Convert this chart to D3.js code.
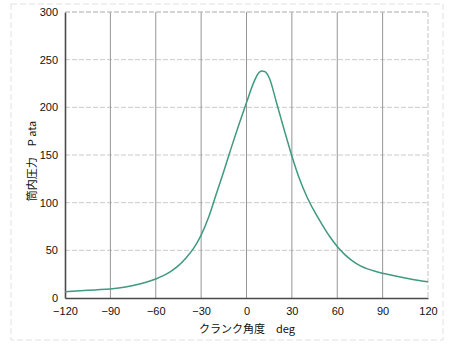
<!DOCTYPE html>
<html><head><meta charset="utf-8">
<script src="https://cdn.jsdelivr.net/npm/d3@7"></script>
<style>body{margin:0;background:#fff}svg{display:block}</style>
</head><body>
<script>
const angles = [-120,-110,-100,-90,-80,-70,-60,-55,-50,-45,-40,-35,-30,-25,-20,-15,-10,-5,0,5,8,10,12,15,20,25,30,35,40,45,50,55,60,65,70,75,80,85,90,100,110,120];
const pressure = [6.5,7.5,8.5,9.5,11.5,15,20,23.5,28,34,42,52,66,85,109,133,158,182,205,227,236,238,237.5,231,204,176,149,125,106,90.5,77,64.5,54,45.5,39,34,30.5,28,26,22.5,19.5,17];
const xTicks = [-120,-90,-60,-30,0,30,60,90,120];
const yTicks = [0,50,100,150,200,250,300];
const xTitle = "クランク角度　deg";
const yTitle = "筒内圧力　P  ata";

const W=450,H=348, L=65, R=428, T=12, B=298;
const svg=d3.select("body").append("svg").attr("width",W).attr("height",H);
const x=d3.scaleLinear().domain([-120,120]).range([L,R]);
const y=d3.scaleLinear().domain([0,300]).range([B,T]);

// faint outer frame (scan)
svg.append("rect").attr("x",11).attr("y",4).attr("width",432).attr("height",336)
  .attr("fill","none").attr("stroke","#e0e0e0").attr("stroke-dasharray","6,3");

// horizontal grid (dashed, light)
svg.append("g").selectAll("line").data(yTicks.filter(d=>d>0)).join("line")
  .attr("x1",L).attr("x2",R).attr("y1",d=>y(d)).attr("y2",d=>y(d))
  .attr("stroke","#cacaca").attr("stroke-dasharray","5,2");
// vertical grid
svg.append("g").selectAll("line").data(xTicks.filter(d=>d>-120&&d<120)).join("line")
  .attr("x1",d=>x(d)).attr("x2",d=>x(d)).attr("y1",T).attr("y2",B)
  .attr("stroke","#8a8a8a").attr("stroke-width",0.9);
// right border (dashed)
svg.append("line").attr("x1",R).attr("x2",R).attr("y1",T).attr("y2",B)
  .attr("stroke","#c4c4c4").attr("stroke-dasharray","5,2");

// axes
const xa=svg.append("g").attr("transform",`translate(0,${B})`)
  .call(d3.axisBottom(x).tickValues(xTicks).tickSize(0).tickPadding(9).tickFormat(d=>d<0?"−"+Math.abs(d):d));
const ya=svg.append("g").attr("transform",`translate(${L},0)`)
  .call(d3.axisLeft(y).tickValues(yTicks).tickSize(0).tickPadding(7));
[xa,ya].forEach(a=>{a.select(".domain").attr("stroke","#4a4a4a").attr("stroke-width",1.6);
  a.selectAll("text").attr("font-family","Liberation Sans, Arial, sans-serif").attr("font-size",11).attr("fill","#111");});
// top border dashed
svg.append("line").attr("x1",L).attr("x2",R).attr("y1",T).attr("y2",T)
  .attr("stroke","#c4c4c4").attr("stroke-dasharray","5,2");

// curve
const line=d3.line().x((d,i)=>x(angles[i])).y(d=>y(d)).curve(d3.curveMonotoneX);
svg.append("path").attr("d",line(pressure)).attr("fill","none")
  .attr("stroke","#3f9a80").attr("stroke-width",1.5);

// titles
svg.append("text").attr("x",247).attr("y",333).attr("text-anchor","middle")
  .attr("font-family","Noto Sans CJK JP, sans-serif").attr("font-size",11).attr("fill","#111").text(xTitle);
svg.append("text").attr("transform","translate(36,161) rotate(-90)").attr("text-anchor","middle")
  .attr("font-family","Noto Sans CJK JP, sans-serif").attr("font-size",11).attr("fill","#111").text(yTitle);
</script>
</body></html>
